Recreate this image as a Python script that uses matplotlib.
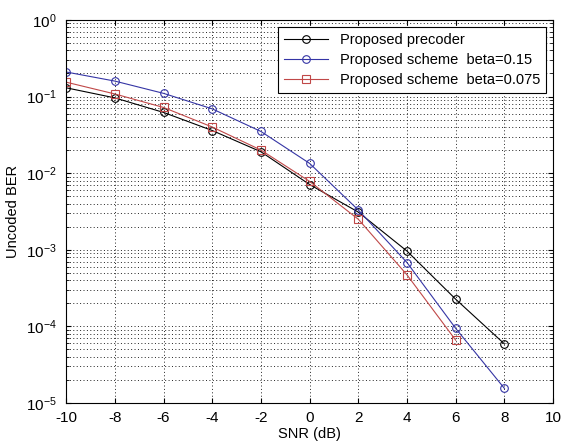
import matplotlib.pyplot as plt
import numpy as np

plt.rcParams['font.family'] = ['Liberation Sans', 'DejaVu Sans']
plt.rcParams['mathtext.fontset'] = 'custom'
plt.rcParams['mathtext.rm'] = 'Liberation Sans'
plt.rcParams['mathtext.it'] = 'Liberation Sans'
plt.rcParams['axes.unicode_minus'] = False

# SNR points (dB)
snr = [-10, -8, -6, -4, -2, 0, 2, 4, 6, 8]
snr_b075 = [-10, -8, -6, -4, -2, 0, 2, 4, 6]

# Uncoded BER
ber_precoder = [0.130, 0.096, 0.062, 0.036, 0.019, 0.0071, 0.0031, 0.00096, 0.000226, 0.000059]
ber_b015 = [0.209, 0.159, 0.110, 0.069, 0.035, 0.0134, 0.0033, 0.00068, 0.000094, 0.0000155]
ber_b075 = [0.154, 0.108, 0.072, 0.040, 0.020, 0.0078, 0.0025, 0.00047, 0.000066]

labels = ['Proposed precoder', 'Proposed scheme  beta=0.15', 'Proposed scheme  beta=0.075']

fig = plt.figure(figsize=(5.65, 4.46), dpi=100)
ax = fig.add_axes([0.117, 0.0964, 0.862, 0.859])

style = dict(mfc='none', ms=5.5, lw=0.8, mew=0.8)
ax.semilogy(snr, ber_precoder, color='black', marker='o', label=labels[0], **style)
ax.semilogy(snr, ber_b015, color='#3535a5', marker='o', label=labels[1], **style)
ax.semilogy(snr_b075, ber_b075, color='#c04848', marker='s', label=labels[2], **style)

ax.set_xlim(-10, 10)
ax.set_ylim(1e-5, 1)
ax.set_xticks(np.arange(-10, 11, 2))
grid_ls = (0, (1, 2.5))
ax.grid(True, which='major', color='#222222', linestyle=grid_ls, linewidth=0.7)
ax.grid(True, which='minor', axis='y', color='#222222', linestyle=grid_ls, linewidth=0.7)
ax.tick_params(which='both', direction='in', top=True, right=True, labelsize=11)
ax.tick_params(axis='x', which='minor', bottom=False, top=False)
ax.tick_params(axis='x', which='major', pad=6)
ax.tick_params(axis='y', which='major', pad=7)
for s in ax.spines.values():
    s.set_linewidth(0.8)

ax.set_xlabel('SNR (dB)', fontsize=10.5, labelpad=1)
ax.set_ylabel('Uncoded BER', fontsize=10.5, labelpad=4)

leg = ax.legend(loc='upper right', fontsize=10.5, fancybox=False, framealpha=1,
                edgecolor='black', borderaxespad=0.5, handlelength=3,
                labelspacing=0.4, borderpad=0.4)
leg.get_frame().set_linewidth(0.8)

plt.savefig('out.png', dpi=100)
